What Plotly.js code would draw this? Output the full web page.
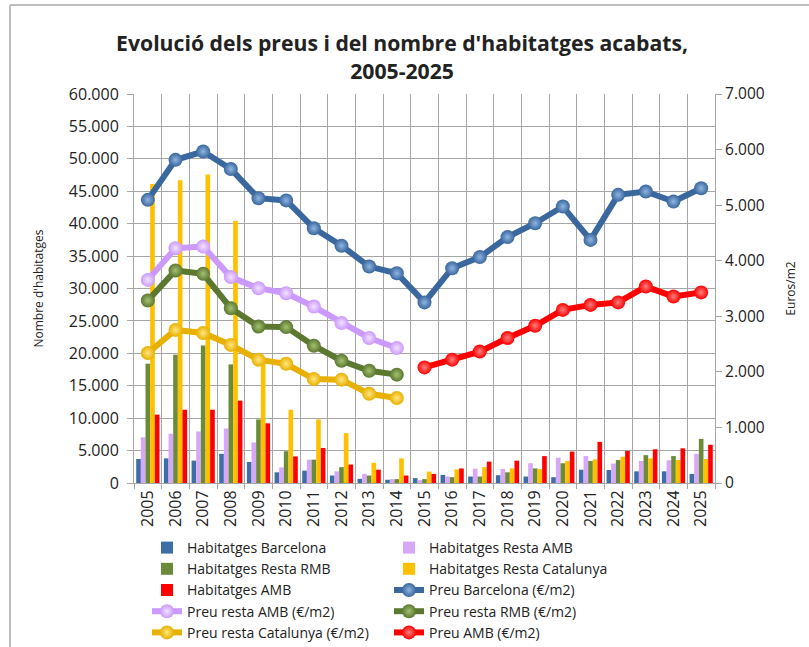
<!DOCTYPE html>
<html><head><meta charset="utf-8">
<script src="https://cdn.plot.ly/plotly-3.0.1.min.js"></script>
<style>body{margin:0;background:#fff}#c{width:809px;height:647px}</style>
</head><body><div id="c"></div>
<script>
const years = ['2005','2006','2007','2008','2009','2010','2011','2012','2013','2014','2015','2016','2017','2018','2019','2020','2021','2022','2023','2024','2025'];

const habBarcelona = [3700,3800,3450,4500,3250,1650,1900,1150,650,500,750,1250,1000,1200,1000,900,2050,2000,1800,1800,1400];
const habRestaAMB  = [7050,7600,7950,8400,6250,2400,3600,1800,1400,600,450,1000,2200,2150,3050,3900,4150,3000,3400,3500,4500];
const habRestaRMB  = [18400,19800,21200,18300,9800,4900,3600,2450,1150,600,600,900,1000,1650,2250,3050,3400,3550,4300,4150,6800];
const habRestaCat  = [46100,46700,47600,40400,19000,11300,9800,7700,3100,3800,1750,2100,2450,2250,2150,3400,3650,4050,3800,3550,3700];
const habAMB       = [10550,11300,11300,12700,9200,4100,5400,2850,2050,1150,1400,2250,3300,3450,4150,4850,6350,4950,5200,5350,5900];

const preuBarcelona = [5095,5815,5965,5650,5125,5085,4585,4270,3895,3775,3250,3865,4065,4425,4675,4975,4375,5185,5245,5065,5305];
const preuRestaAMB  = [3655,4225,4255,3705,3505,3415,3175,2880,2610,2430,null,null,null,null,null,null,null,null,null,null,null];
const preuRestaRMB  = [3285,3825,3765,3145,2815,2805,2470,2200,2020,1950,null,null,null,null,null,null,null,null,null,null,null];
const preuRestaCat  = [2340,2755,2700,2485,2220,2145,1870,1860,1605,1530,null,null,null,null,null,null,null,null,null,null,null];
const preuAMB       = [null,null,null,null,null,null,null,null,null,null,2080,2220,2365,2610,2830,3115,3205,3250,3535,3355,3430];

function bar(name, y, color){
  return {type:'bar', name:name, x:years, y:y, marker:{color:color, line:{width:0}}, yaxis:'y', hoverinfo:'x+y'};
}
function line(name, y, color, light){
  return {type:'scatter', mode:'lines+markers', name:name, x:years, y:y, yaxis:'y2',
    line:{color:color, width:6}, connectgaps:false,
    marker:{size:14, color:color, gradient:{type:'radial', color:light}, line:{width:0}}};
}

const data = [
  bar('Habitatges Barcelona', habBarcelona, '#3E6EA6'),
  bar('Habitatges Resta AMB', habRestaAMB, '#D7A8F7'),
  bar('Habitatges Resta RMB', habRestaRMB, '#6B8A3A'),
  bar('Habitatges Resta Catalunya', habRestaCat, '#FFC000'),
  bar('Habitatges AMB', habAMB, '#FF0000'),
  line('Preu Barcelona (€/m2)', preuBarcelona, '#3A679E', '#8FB4E0'),
  line('Preu resta AMB (€/m2)', preuRestaAMB, '#CC99FF', '#F2E2FF'),
  line('Preu resta RMB (€/m2)', preuRestaRMB, '#5C7830', '#A4C070'),
  line('Preu resta Catalunya (€/m2)', preuRestaCat, '#E8B000', '#FFE680'),
  line('Preu AMB (€/m2)', preuAMB, '#FF0000', '#FF8080')
];

const fontFam = 'Open Sans, Noto Sans, sans-serif';
const layout = {
  width:809, height:647,
  margin:{l:134, r:94, t:94, b:164, autoexpand:false},
  paper_bgcolor:'#fff', plot_bgcolor:'#fff',
  separators:',.',
  barmode:'group', bargap:0.16, bargroupgap:0,
  font:{family:fontFam, color:'#222'},
  title:{text:"<b>Evolució dels preus i del nombre d'habitatges acabats,<br>2005-2025</b>",
    font:{size:21.2, family:fontFam, color:'#222'}, x:0.497, xref:'container', xanchor:'center',
    yref:'container', y:1-51/647, yanchor:'top'},
  xaxis:{type:'category', range:[-0.5, years.length-0.5], autorange:false, tickson:'boundaries', showgrid:true, gridcolor:'#A6A6A6', gridwidth:1,
    ticks:'outside', ticklen:5, tickcolor:'#A6A6A6', tickangle:-90, tickfont:{size:16, color:'#222'},
    showline:true, linecolor:'#A6A6A6', mirror:false, zeroline:false, automargin:false},
  yaxis:{range:[0,60000], dtick:5000, tickformat:',d', showgrid:true, gridcolor:'#A6A6A6', gridwidth:1,
    ticks:'outside', ticklen:6, tickcolor:'#A6A6A6', showline:true, linecolor:'#A6A6A6',
    tickfont:{size:16, color:'#222'}, ticklabelstandoff:5, zeroline:false, automargin:false,
    title:{text:"Nombre d'habitatges", font:{size:12, color:'#222'}, standoff:22}},
  yaxis2:{range:[0,7000], dtick:1000, tickformat:',d', overlaying:'y', side:'right', showgrid:false,
    ticks:'outside', ticklen:6, tickcolor:'#A6A6A6', showline:true, linecolor:'#A6A6A6',
    tickfont:{size:15.5, color:'#222'}, zeroline:false, automargin:false,
    title:{text:'Euros/m2', font:{size:12, color:'#222'}, standoff:22}},
  legend:{orientation:'h', xref:'container', x:147/809, xanchor:'left', yref:'container', y:1-532/647, yanchor:'top',
    entrywidth:197, font:{size:14, color:'#222'}, tracegroupgap:0, itemwidth:30,
    bgcolor:'rgba(0,0,0,0)'},
  shapes:[
    {type:'line', xref:'paper', yref:'paper', x0:-0.2134, x1:-0.2134, y0:-0.5, y1:1.2286, line:{color:'#BDBDBD', width:2}},
    {type:'line', xref:'paper', yref:'paper', x0:-0.2134, x1:1.2, y0:1.2286, y1:1.2286, line:{color:'#BDBDBD', width:2}}
  ],
  showlegend:true
};
Plotly.newPlot('c', data, layout, {staticPlot:true});
</script></body></html>
